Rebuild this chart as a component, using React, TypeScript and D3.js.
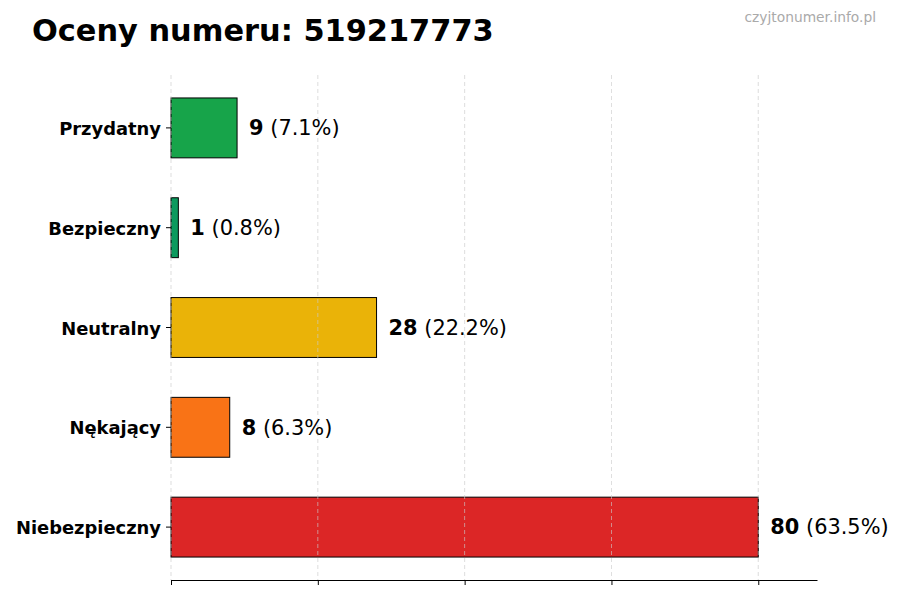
import { select, scaleLinear, scaleBand, axisBottom, axisLeft } from "d3";
import { useEffect, useRef } from "react";

const CATEGORIES = ["Przydatny", "Bezpieczny", "Neutralny", "Nękający", "Niebezpieczny"];
const COUNTS = [9, 1, 28, 8, 80];
const COLORS = ["#17a44a", "#0c9a5e", "#eab308", "#f97316", "#dc2626"];
const X_TICKS = [0, 20, 40, 60, 80];
const X_MAX = 88;

const WIDTH = 900;
const HEIGHT = 600;
const MARGIN = { top: 75, right: 83, bottom: 20, left: 171 };
const FONT = "'DejaVu Sans', sans-serif";

export default function App() {
  const svgRef = useRef<SVGSVGElement | null>(null);

  useEffect(() => {
    const svg = svgRef.current;
    if (!svg) {
      return;
    }
    select(svg).selectAll("*").remove();

    const innerWidth = WIDTH - MARGIN.left - MARGIN.right;
    const innerHeight = HEIGHT - MARGIN.top - MARGIN.bottom;
    const total = COUNTS.reduce((a, b) => a + b, 0);

    const root = select(svg)
      .attr("width", WIDTH)
      .attr("height", HEIGHT)
      .style("font-family", FONT);

    root
      .append("rect")
      .attr("width", WIDTH)
      .attr("height", HEIGHT)
      .attr("fill", "#ffffff");

    root
      .append("text")
      .attr("x", 32)
      .attr("y", 41)
      .attr("font-size", "30.4px")
      .attr("font-weight", "bold")
      .attr("fill", "#000")
      .text("Oceny numeru: 519217773");

    root
      .append("text")
      .attr("x", 876)
      .attr("y", 22)
      .attr("text-anchor", "end")
      .attr("font-size", "13.8px")
      .attr("fill", "#aaaaaa")
      .text("czyjtonumer.info.pl");

    const g = root
      .append("g")
      .attr("transform", `translate(${MARGIN.left},${MARGIN.top})`);

    const xScale = scaleLinear().domain([0, X_MAX]).range([0, innerWidth]);
    const yScale = scaleBand<string>()
      .domain(CATEGORIES)
      .range([0, innerHeight])
      .paddingInner(0.4)
      .paddingOuter(0.23);

    const rows = CATEGORIES.map((name, i) => ({
      name,
      value: COUNTS[i],
      color: COLORS[i],
      pct: ((COUNTS[i] / total) * 100).toFixed(1),
    }));

    g.selectAll("rect.bar")
      .data(rows)
      .enter()
      .append("rect")
      .attr("class", "bar")
      .attr("x", xScale(0))
      .attr("y", (d) => yScale(d.name) ?? 0)
      .attr("width", (d) => xScale(d.value) - xScale(0))
      .attr("height", yScale.bandwidth())
      .attr("fill", (d) => d.color)
      .attr("stroke", "#000")
      .attr("stroke-width", 1);

    // grid on top of bars, like the reference
    g.append("g")
      .selectAll("line")
      .data(X_TICKS)
      .enter()
      .append("line")
      .attr("x1", (d) => xScale(d))
      .attr("x2", (d) => xScale(d))
      .attr("y1", 0)
      .attr("y2", innerHeight)
      .attr("stroke", "#cccccc")
      .attr("stroke-width", 0.8)
      .attr("stroke-dasharray", "4,3")
      .attr("opacity", 0.8);

    g.append("g")
      .attr("transform", `translate(0,${innerHeight})`)
      .call(
        axisBottom(xScale)
          .tickValues(X_TICKS)
          .tickSize(5)
          .tickSizeOuter(0)
          .tickFormat(() => "")
      )
      .call((sel) => {
        sel.selectAll("path,line").attr("stroke", "#000").attr("stroke-width", 1);
      });

    g.append("g")
      .call(axisLeft(yScale).tickSize(5).tickPadding(5))
      .call((sel) => {
        sel.select("path").remove();
        sel.selectAll("line").attr("stroke", "#000");
        sel
          .selectAll("text")
          .attr("fill", "#000")
          .attr("font-size", "17.9px")
          .attr("font-weight", "bold")
          .attr("font-family", FONT)
          .attr("dy", "0.4em");
      });

    const labels = g
      .selectAll("text.value")
      .data(rows)
      .enter()
      .append("text")
      .attr("class", "value")
      .attr("x", (d) => xScale(d.value) + 12)
      .attr("y", (d) => (yScale(d.name) ?? 0) + yScale.bandwidth() / 2)
      .attr("dy", "0.35em")
      .attr("font-size", "20.9px")
      .attr("fill", "#000");
    labels
      .append("tspan")
      .attr("font-weight", "bold")
      .text((d) => `${d.value}`);
    labels.append("tspan").text((d) => ` (${d.pct}%)`);
  }, []);

  return (
    <div style={{ position: "absolute", left: 0, top: 0 }}>
      <svg ref={svgRef} style={{ display: "block" }} />
    </div>
  );
}
